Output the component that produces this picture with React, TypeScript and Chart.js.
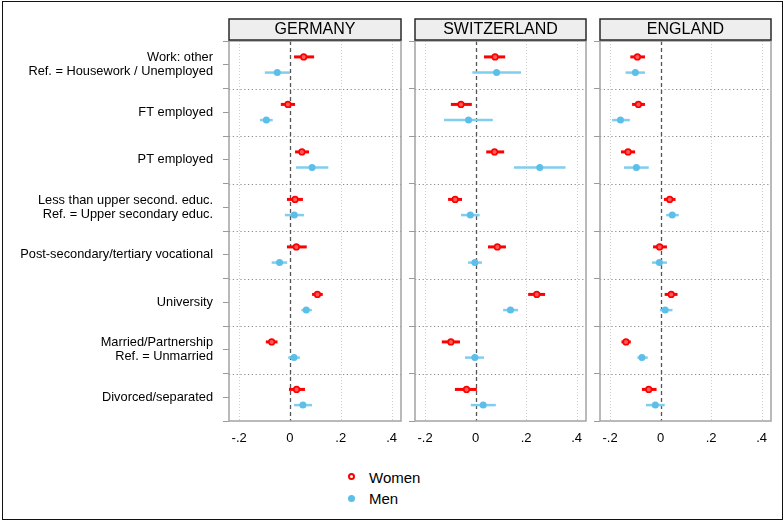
import React, { useEffect, useRef } from "react";
import { Chart, registerables } from "chart.js";
Chart.register(...registerables);

const FONT = "'Liberation Sans', Arial, Helvetica, sans-serif";

const categories: (string | string[])[] = [
  ["Work: other", "Ref. = Housework / Unemployed"],
  "FT employed",
  "PT employed",
  ["Less than upper second. educ.", "Ref. = Upper secondary educ."],
  "Post-secondary/tertiary vocational",
  "University",
  ["Married/Partnership", "Ref. = Unmarried"],
  "Divorced/separated",
];
const countries = ["GERMANY", "SWITZERLAND", "ENGLAND"];
const seriesNames = ["Women", "Men"];
const xTickValues = [-0.2, 0, 0.2, 0.4];
const xTickLabels = ["-.2", "0", ".2", ".4"];

// [estimate, lower, upper]
const germanyWomen = [
  [0.054, 0.016, 0.095], [-0.008, -0.036, 0.02], [0.047, 0.02, 0.075], [0.02, -0.012, 0.051],
  [0.025, -0.012, 0.066], [0.108, 0.087, 0.129], [-0.072, -0.095, -0.049], [0.026, -0.004, 0.059],
];
const germanyMen = [
  [-0.05, -0.099, 0.0], [-0.093, -0.118, -0.068], [0.087, 0.024, 0.151], [0.017, -0.02, 0.055],
  [-0.041, -0.072, -0.011], [0.064, 0.045, 0.086], [0.016, -0.007, 0.039], [0.051, 0.016, 0.087],
];
const switzerlandWomen = [
  [0.077, 0.033, 0.117], [-0.058, -0.098, -0.015], [0.075, 0.042, 0.113], [-0.081, -0.109, -0.054],
  [0.086, 0.049, 0.12], [0.242, 0.208, 0.275], [-0.098, -0.134, -0.062], [-0.036, -0.082, 0.005],
];
const switzerlandMen = [
  [0.083, -0.013, 0.18], [-0.028, -0.125, 0.068], [0.254, 0.152, 0.356], [-0.021, -0.058, 0.016],
  [-0.003, -0.03, 0.025], [0.138, 0.109, 0.168], [-0.003, -0.042, 0.033], [0.03, -0.019, 0.08],
];
const englandWomen = [
  [-0.092, -0.12, -0.062], [-0.088, -0.113, -0.062], [-0.129, -0.157, -0.101], [0.036, 0.013, 0.059],
  [-0.004, -0.03, 0.025], [0.042, 0.016, 0.067], [-0.137, -0.155, -0.118], [-0.047, -0.074, -0.016],
];
const englandMen = [
  [-0.1, -0.139, -0.062], [-0.159, -0.192, -0.122], [-0.096, -0.145, -0.047], [0.046, 0.022, 0.072],
  [-0.005, -0.034, 0.025], [0.018, -0.003, 0.047], [-0.074, -0.092, -0.051], [-0.021, -0.058, 0.016],
];

const panelData = [
  [germanyWomen, germanyMen],
  [switzerlandWomen, switzerlandMen],
  [englandWomen, englandMen],
];

const X_MIN = -0.24;
const X_MAX = 0.437;
const Y_OFF = 0.165;
const RED = "#ff0000";
const BLUE = "#5bbfea";
const BLUE_BAR = "#80cdee";

const CANVAS_H = 460;
const canvasLefts = [0, 400, 585];
const canvasWidths = [410, 195, 195];
const axisWidths = [229, 15, 15];
const plotRights = [401, 586, 771];

function Panel({ index }: { index: number }) {
  const ref = useRef<HTMLCanvasElement | null>(null);
  const first = index === 0;
  useEffect(() => {
    const [women, men] = panelData[index];
    const deco = {
      id: "panelDeco",
      beforeDatasetsDraw(chart: any) {
        const { ctx, chartArea: a, scales } = chart;
        const x = scales.x;
        const y = scales.y;
        ctx.save();
        ctx.lineWidth = 1;
        ctx.strokeStyle = "#cfcfcf";
        ctx.setLineDash([1, 2]);
        for (const v of xTickValues) {
          if (v === 0) continue;
          const px = Math.round(x.getPixelForValue(v)) + 0.5;
          ctx.beginPath();
          ctx.moveTo(px, a.top);
          ctx.lineTo(px, a.bottom);
          ctx.stroke();
        }
        ctx.strokeStyle = "#8a8a8a";
        ctx.lineWidth = 1.2;
        ctx.setLineDash([1.2, 2.6]);
        for (let i = 0; i < categories.length - 1; i++) {
          const py = Math.round(y.getPixelForValue(i + 0.5)) + 0.5;
          ctx.beginPath();
          ctx.moveTo(a.left, py);
          ctx.lineTo(a.right, py);
          ctx.stroke();
        }
        const zx = Math.round(x.getPixelForValue(0)) + 0.5;
        ctx.strokeStyle = "#555";
        ctx.lineWidth = 1.3;
        ctx.setLineDash([4, 3]);
        ctx.beginPath();
        ctx.moveTo(zx, a.top);
        ctx.lineTo(zx, a.bottom);
        ctx.stroke();
        ctx.setLineDash([]);
        chart.data.datasets.forEach((ds: any) => {
          ctx.strokeStyle = ds.barColor;
          ctx.lineWidth = ds.barWidth;
          ds.ci.forEach((c: number[], i: number) => {
            const py = y.getPixelForValue(ds.data[i].y);
            ctx.beginPath();
            ctx.moveTo(x.getPixelForValue(c[0]), py);
            ctx.lineTo(x.getPixelForValue(c[1]), py);
            ctx.stroke();
          });
        });
        ctx.restore();
      },
      afterDraw(chart: any) {
        const { ctx, chartArea: a } = chart;
        ctx.save();
        ctx.strokeStyle = "#a3a3a3";
        ctx.lineWidth = 1.5;
        ctx.strokeRect(a.left, a.top, a.right - a.left, a.bottom - a.top);
        const top = a.top - 22;
        ctx.fillStyle = "#eeeeee";
        ctx.fillRect(a.left, top, a.right - a.left, 21);
        ctx.strokeStyle = "#2a2a2a";
        ctx.lineWidth = 1.5;
        ctx.strokeRect(a.left, top, a.right - a.left, 21);
        ctx.fillStyle = "#000";
        ctx.font = `16px ${FONT}`;
        ctx.textAlign = "center";
        ctx.textBaseline = "middle";
        ctx.fillText(countries[index], (a.left + a.right) / 2, top + 11);
        ctx.restore();
      },
    };
    const mk = (rows: number[][], off: number) =>
      rows.map((r, i) => ({ x: r[0], y: i + off }));
    const chart = new Chart(ref.current as HTMLCanvasElement, {
      type: "scatter",
      data: {
        datasets: [
          {
            label: seriesNames[0],
            data: mk(women, -Y_OFF),
            ci: women.map((r) => [r[1], r[2]]),
            barColor: RED,
            barWidth: 3,
            pointRadius: 2.8,
            pointBorderWidth: 1.6,
            pointBorderColor: RED,
            pointBackgroundColor: "#ff5c5c",
          } as any,
          {
            label: seriesNames[1],
            data: mk(men, Y_OFF),
            ci: men.map((r) => [r[1], r[2]]),
            barColor: BLUE_BAR,
            barWidth: 2.5,
            pointRadius: 3.5,
            pointBorderWidth: 0,
            pointBackgroundColor: BLUE,
          } as any,
        ],
      },
      options: {
        animation: false,
        responsive: false,
        events: [],
        layout: { padding: { top: 41, right: canvasWidths[index] - (plotRights[index] - canvasLefts[index]), left: 0, bottom: 0 } },
        plugins: { legend: { display: false }, tooltip: { enabled: false } },
        scales: {
          x: {
            type: "linear",
            min: X_MIN,
            max: X_MAX,
            afterBuildTicks: (s: any) => {
              s.ticks = xTickValues.map((v) => ({ value: v }));
            },
            afterFit: (s: any) => {
              s.height = CANVAS_H - 421;
            },
            border: { display: false },
            grid: { drawOnChartArea: false, drawTicks: false },
            ticks: {
              padding: 10,
              color: "#000",
              font: { family: FONT, size: 13 },
              maxRotation: 0,
              callback: (v: any) => {
                const k = xTickValues.findIndex((t) => Math.abs(t - Number(v)) < 1e-9);
                return k >= 0 ? xTickLabels[k] : "";
              },
            },
          },
          y: {
            type: "linear",
            reverse: true,
            min: -0.5,
            max: categories.length - 0.5,
            afterBuildTicks: (s: any) => {
              const t = [];
              for (let v = -0.5; v <= categories.length - 0.5 + 1e-9; v += 0.5) t.push({ value: v });
              s.ticks = t;
            },
            afterFit: (s: any) => {
              s.width = axisWidths[index];
            },
            border: { display: false },
            grid: {
              drawOnChartArea: false,
              drawTicks: true,
              tickLength: 6,
              tickWidth: 1,
              tickColor: (c: any) =>
                !first && Number.isInteger(c.tick?.value) ? "rgba(0,0,0,0)" : "#9a9a9a",
            },
            ticks: {
              display: first,
              padding: 10,
              color: "#000",
              autoSkip: false,
              font: { family: FONT, size: 12.8, lineHeight: 1.1 },
              callback: (v: any) => {
                const n = Number(v);
                return Number.isInteger(n) && n >= 0 && n < categories.length ? (categories[n] as any) : "";
              },
            },
          },
        },
      },
      plugins: [deco],
    });
    return () => chart.destroy();
  }, [index]);
  return (
    <canvas
      ref={ref}
      width={canvasWidths[index]}
      height={CANVAS_H}
      style={{ position: "absolute", left: canvasLefts[index], top: 0, width: canvasWidths[index], height: CANVAS_H }}
    />
  );
}

export default function App() {
  const legendText: React.CSSProperties = {
    position: "absolute",
    left: 369,
    fontFamily: FONT,
    fontSize: 15,
    lineHeight: "17px",
    color: "#000",
  };
  return (
    <div
      style={{
        position: "fixed",
        left: 0,
        top: 0,
        width: 784,
        height: 521,
        background: "#fff",
        overflow: "hidden",
      }}
    >
      <div
        style={{
          position: "absolute",
          left: 2,
          top: 1,
          width: 781,
          height: 519,
          boxSizing: "border-box",
          border: "1.5px solid #111",
        }}
      />
      {countries.map((c, i) => (
        <Panel key={c} index={i} />
      ))}
      <div
        style={{
          position: "absolute",
          left: 348,
          top: 473,
          width: 7,
          height: 7,
          boxSizing: "border-box",
          borderRadius: "50%",
          border: `2px solid ${RED}`,
          background: "#fff",
        }}
      />
      <div style={{ ...legendText, top: 469 }}>{seriesNames[0]}</div>
      <div
        style={{
          position: "absolute",
          left: 348,
          top: 495,
          width: 7,
          height: 7,
          borderRadius: "50%",
          background: BLUE,
        }}
      />
      <div style={{ ...legendText, top: 490 }}>{seriesNames[1]}</div>
    </div>
  );
}
